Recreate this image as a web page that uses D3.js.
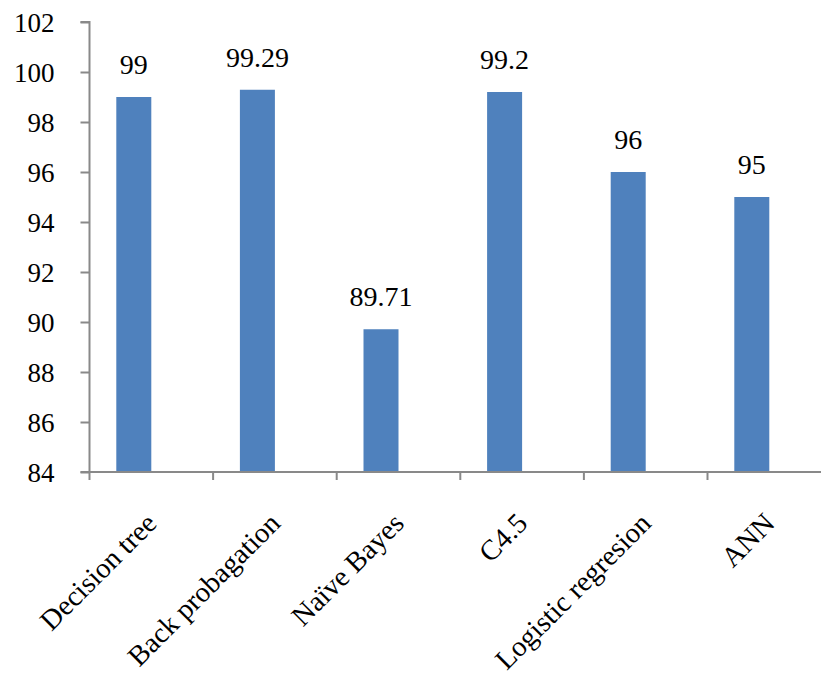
<!DOCTYPE html>
<html><head><meta charset="utf-8">
<script src="https://cdn.jsdelivr.net/npm/d3@7"></script>
<style>body{margin:0;background:#fff}svg{display:block}</style>
</head><body>
<svg id="chart" width="821" height="675"></svg>
<script>
const categories = ["Decision tree","Back probagation","Naïve Bayes","C4.5","Logistic regresion","ANN"];
const values = [99, 99.29, 89.71, 99.2, 96, 95];
const valueLabels = ["99","99.29","89.71","99.2","96","95"];
const yTicks = [84,86,88,90,92,94,96,98,100,102];

const svg = d3.select("#chart");
const left = 89.5, axisY = 472, topY = 22;
const step = 123.6;
const x = d3.scaleBand().domain(categories).range([left, left + step*categories.length]).padding(0);
const y = d3.scaleLinear().domain([84,102]).range([axisY, topY]);
const barW = 35;
const font = "'Liberation Serif','Times New Roman',serif";

// bars
svg.selectAll("rect.bar").data(values).join("rect")
  .attr("class","bar")
  .attr("x",(d,i)=>x(categories[i]) + x.bandwidth()/2 - barW)
  .attr("width",barW)
  .attr("y",d=>y(d))
  .attr("height",d=>axisY - y(d))
  .attr("fill","#4F81BD");

// value labels
svg.selectAll("text.val").data(values).join("text")
  .attr("class","val")
  .attr("x",(d,i)=>x(categories[i]) + x.bandwidth()/2 - barW/2)
  .attr("y",d=>y(d) - 23)
  .attr("text-anchor","middle")
  .attr("font-family",font).attr("font-size",28).attr("fill","#000")
  .text((d,i)=>valueLabels[i]);

// y axis
const yAxis = d3.axisLeft(y).tickValues(yTicks).tickSize(9).tickPadding(26).tickFormat(d3.format("d"));
const gy = svg.append("g").attr("transform",`translate(${left},0)`).call(yAxis);
gy.select(".domain").attr("stroke","#898989").attr("stroke-width",2).attr("d",`M-9,${topY}H0V${axisY}H-9`);
gy.selectAll(".tick line").attr("stroke","#898989").attr("stroke-width",2);
gy.selectAll(".tick text").attr("font-family",font).attr("font-size",27).attr("fill","#000").attr("dy","0.34em");

// x axis
const xAxis = d3.axisBottom(x).tickSize(0).tickFormat("");
const gx = svg.append("g").attr("transform",`translate(0,${axisY})`).call(xAxis);
gx.select(".domain").attr("stroke","#898989").attr("stroke-width",2).attr("d",`M${left},0H821`);
const tickPos = d3.range(categories.length+1).map(i=>left + i*step);
gx.selectAll("line.xt").data(tickPos.filter(p=>p<821)).join("line").attr("class","xt")
  .attr("x1",d=>d).attr("x2",d=>d).attr("y1",0).attr("y2",8)
  .attr("stroke","#898989").attr("stroke-width",2);

// category labels
svg.selectAll("text.cat").data(categories).join("text")
  .attr("class","cat")
  .attr("text-anchor","end")
  .attr("font-family",font).attr("font-size",28.5).attr("fill","#000")
  .attr("transform",d=>`translate(${x(d)+x.bandwidth()/2+7},${axisY+53}) rotate(-45)`)
  .text(d=>d);
</script>
</body></html>
